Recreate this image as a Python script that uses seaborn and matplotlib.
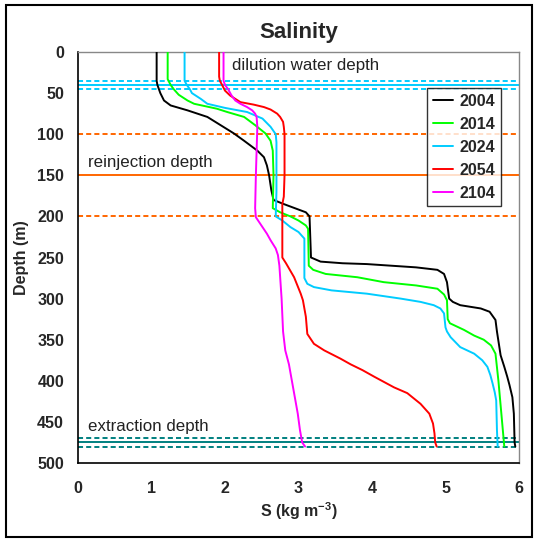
import matplotlib
matplotlib.use("Agg")
import matplotlib.pyplot as plt
import seaborn as sns
import pandas as pd
from matplotlib.patches import Rectangle

# ---- data ----
years = ["2004", "2014", "2024", "2054", "2104"]
colors = ["#000000", "#00FF00", "#00CCFF", "#FF0000", "#FF00FF"]

d_2004 = [0, 35, 40, 50, 59, 65, 71, 79, 89, 99, 108, 120, 128, 138, 150, 168, 180, 185, 190, 195, 200, 250, 255, 257, 258, 262, 265, 270, 280, 300, 304, 308, 312, 316, 326, 340, 369, 383, 395, 405, 420, 440, 475, 480]
s_2004 = [1.07, 1.07, 1.08, 1.12, 1.17, 1.26, 1.49, 1.76, 1.94, 2.12, 2.26, 2.44, 2.53, 2.57, 2.60, 2.63, 2.66, 2.80, 2.95, 3.10, 3.15, 3.17, 3.30, 3.60, 3.93, 4.60, 4.89, 4.98, 5.02, 5.05, 5.10, 5.20, 5.48, 5.60, 5.68, 5.70, 5.75, 5.80, 5.84, 5.87, 5.91, 5.93, 5.94, 5.95]

d_2014 = [0, 33, 40, 45, 52, 59, 63, 69, 73, 79, 89, 99, 108, 120, 150, 190, 195, 200, 205, 211, 215, 260, 265, 270, 274, 280, 284, 288, 295, 302, 325, 330, 338, 345, 350, 357, 367, 400, 440, 460, 480]
s_2014 = [1.22, 1.22, 1.26, 1.30, 1.37, 1.49, 1.58, 1.89, 2.03, 2.26, 2.41, 2.55, 2.62, 2.65, 2.66, 2.65, 2.75, 2.89, 3.00, 3.10, 3.13, 3.14, 3.20, 3.37, 3.80, 4.16, 4.60, 4.89, 4.98, 5.02, 5.03, 5.06, 5.25, 5.39, 5.52, 5.62, 5.68, 5.72, 5.76, 5.78, 5.80]

d_2024 = [0, 35, 40, 45, 50, 57, 63, 68, 73, 81, 91, 100, 110, 170, 200, 205, 213, 219, 227, 275, 282, 286, 290, 294, 300, 304, 308, 312, 318, 335, 340, 347, 359, 367, 375, 383, 393, 403, 414, 424, 460, 480]
s_2024 = [1.45, 1.45, 1.48, 1.52, 1.55, 1.67, 1.76, 2.00, 2.30, 2.51, 2.62, 2.69, 2.70, 2.70, 2.69, 2.78, 2.89, 3.00, 3.08, 3.08, 3.12, 3.21, 3.45, 3.93, 4.39, 4.66, 4.84, 4.93, 4.98, 5.00, 5.02, 5.07, 5.20, 5.39, 5.50, 5.57, 5.61, 5.64, 5.67, 5.69, 5.70, 5.71]

d_2054 = [0, 30, 35, 40, 47, 53, 57, 61, 64, 67, 70, 75, 79, 85, 91, 100, 150, 176, 185, 250, 257, 274, 294, 302, 322, 343, 355, 363, 373, 380, 387, 395, 408, 415, 428, 440, 452, 464, 475, 480]
s_2054 = [1.92, 1.92, 1.93, 1.96, 2.00, 2.07, 2.14, 2.21, 2.39, 2.53, 2.62, 2.71, 2.75, 2.79, 2.80, 2.81, 2.81, 2.80, 2.78, 2.78, 2.83, 2.94, 3.03, 3.06, 3.10, 3.12, 3.21, 3.35, 3.57, 3.71, 3.87, 4.03, 4.30, 4.48, 4.66, 4.78, 4.83, 4.85, 4.86, 4.88]

d_2104 = [0, 35, 40, 45, 53, 59, 63, 67, 71, 75, 79, 91, 150, 190, 201, 213, 221, 229, 239, 247, 260, 300, 340, 363, 380, 400, 420, 440, 460, 470, 475, 480]
s_2104 = [1.98, 1.98, 2.00, 2.04, 2.09, 2.14, 2.21, 2.30, 2.37, 2.41, 2.43, 2.44, 2.42, 2.41, 2.42, 2.51, 2.57, 2.62, 2.69, 2.72, 2.74, 2.77, 2.79, 2.82, 2.87, 2.91, 2.95, 2.99, 3.02, 3.04, 3.05, 3.09]

depths = [d_2004, d_2014, d_2024, d_2054, d_2104]
sals = [s_2004, s_2014, s_2024, s_2054, s_2104]

x_ticks = [0, 1, 2, 3, 4, 5, 6]
y_ticks = [0, 50, 100, 150, 200, 250, 300, 350, 400, 450, 500]

# reference lines: (depth, color, style)
ref_lines = [(35, "#00CCFF", "--"), (40, "#00CCFF", "-"), (45, "#00CCFF", "--"),
             (100, "#FF6600", "--"), (150, "#FF6600", "-"), (200, "#FF6600", "--"),
             (470, "#008080", "--"), (475, "#008080", "-"), (480, "#008080", "--")]
annotations = [("dilution water depth", 2.1, 17), ("reinjection depth", 0.13, 134),
               ("extraction depth", 0.13, 456)]

rows = []
for y, d, s in zip(years, depths, sals):
    for i, (dd, ss) in enumerate(zip(d, s)):
        rows.append({"Year": y, "Depth": dd, "S": ss, "order": i})
df = pd.DataFrame(rows)

sns.set_style("white")
plt.rcParams["font.family"] = ["Liberation Sans", "DejaVu Sans"]
plt.rcParams["mathtext.fontset"] = "custom"
plt.rcParams["mathtext.bf"] = "Liberation Sans:bold"
plt.rcParams["mathtext.rm"] = "Liberation Sans"

fig = plt.figure(figsize=(5.34, 5.42), dpi=100)
ax = fig.add_axes([78 / 534, 1 - 463 / 542, 441 / 534, 411 / 542])

# outer frame
fig.patches.append(Rectangle((6 / 534, 5 / 542), 526 / 534, 532 / 542, transform=fig.transFigure,
                             fill=False, edgecolor="black", linewidth=1.5))

for dep, c, ls in ref_lines:
    if ls == "--":
        ax.axhline(dep, color=c, linewidth=1.4, dashes=(2.6, 1.6), zorder=1)
    else:
        ax.axhline(dep, color=c, linewidth=1.4, zorder=1)

sns.lineplot(data=df, x="S", y="Depth", hue="Year", palette=dict(zip(years, colors)),
             sort=False, orient="y", estimator=None, linewidth=1.4, ax=ax, zorder=3)

for txt, xs, yd in annotations:
    ax.text(xs, yd, txt, fontsize=12.2, va="center", ha="left", color="#222222")

ax.set_xlim(0, 6)
ax.set_ylim(500, 0)
ax.set_xticks(x_ticks)
ax.set_yticks(y_ticks)
ax.set_xticklabels([str(t) for t in x_ticks], fontweight="bold", fontsize=11.5)
ax.set_yticklabels([str(t) for t in y_ticks], fontweight="bold", fontsize=11.5)
ax.tick_params(axis="both", direction="out", length=4, width=1, color="black")
ax.tick_params(axis="x", pad=9)
ax.tick_params(axis="y", pad=6)
ax.set_xlabel(r"S (kg m$^{\mathbf{-3}}$)", fontweight="bold", fontsize=11.5, labelpad=3)
ax.set_ylabel("Depth (m)", fontweight="bold", fontsize=11.5, labelpad=6)
ax.set_title("Salinity", fontweight="bold", fontsize=16, pad=10)

for side in ["left", "bottom"]:
    ax.spines[side].set_color("black")
    ax.spines[side].set_linewidth(1.2)
for side in ["top", "right"]:
    ax.spines[side].set_color("#888888")
    ax.spines[side].set_linewidth(1.0)

leg = ax.legend(loc="upper right", bbox_to_anchor=((501 - 78) / 441, 1 - 36 / 411),
                frameon=True, fancybox=False, edgecolor="black", handlelength=1.3,
                handletextpad=0.4, labelspacing=0.5, borderpad=0.35, borderaxespad=0,
                prop={"weight": "bold", "size": 11.5})
leg.get_frame().set_linewidth(1.0)
leg.set_title(None)

fig.savefig("out.png", dpi=100)
